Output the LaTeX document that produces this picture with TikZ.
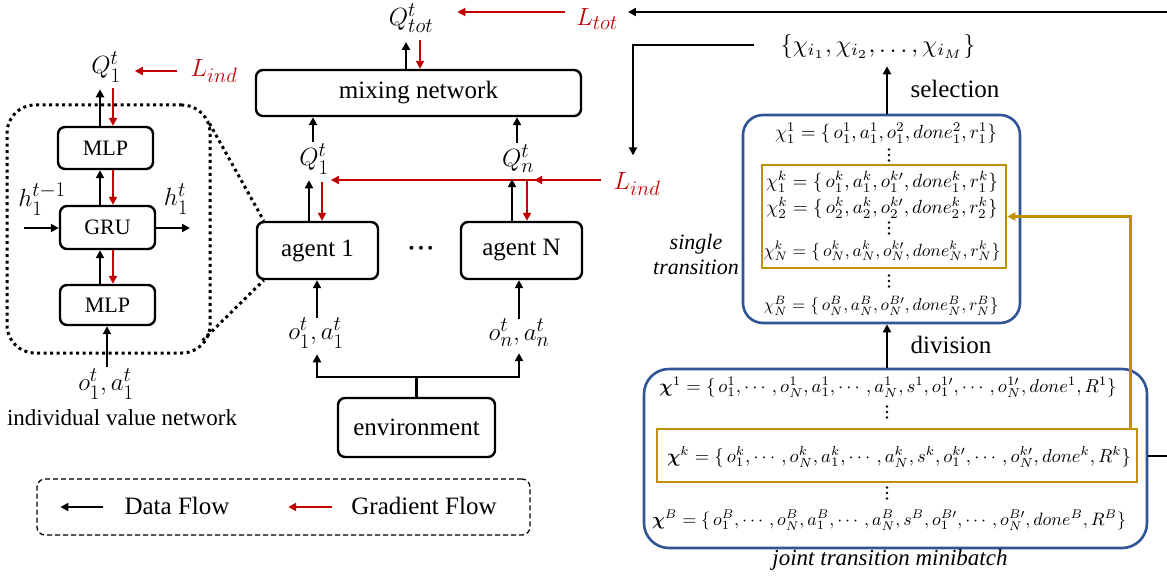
\documentclass[tikz,border=0pt]{standalone}
\usepackage{fontspec}
\setmainfont{Liberation Serif}
\usepackage{amsmath,bm}
\usetikzlibrary{arrows.meta}
\definecolor{gred}{HTML}{C00000}
\definecolor{bblue}{HTML}{2F5597}
\definecolor{gold}{HTML}{BF9000}
\newcommand{\fitw}[2]{\resizebox{#1pt}{!}{$#2$}}
\newcommand{\vdt}[2]{\fill (#1,#2-5.5) circle (1.4pt) (#1,#2) circle (1.4pt) (#1,#2+5.5) circle (1.4pt);}
\begin{document}
\begin{tikzpicture}[x=1pt,y=-1pt,
  blk/.style={draw, line width=2.4pt, rounded corners=7pt, inner sep=0pt, font=\fontsize{25}{30}\selectfont},
  sblk/.style={blk, font=\fontsize{22}{26}\selectfont},
  data/.style={line width=2.2pt, -{Triangle[length=8pt,width=8pt]}},
  plain/.style={line width=2.2pt},
  grad/.style={data, draw=gred},
  lbl/.style={inner sep=0pt, font=\fontsize{29}{34}\selectfont},
  rlbl/.style={lbl, text=gred},
  txt/.style={inner sep=0pt, font=\fontsize{25}{30}\selectfont},
  itxt/.style={inner sep=0pt, font=\fontsize{22}{25}\selectfont\itshape, align=center},
  row/.style={inner sep=0pt},
  bbox/.style={draw=bblue, line width=2.6pt, inner sep=0pt},
  gbox/.style={draw=gold, line width=2.6pt, inner sep=0pt},
  dotl/.style={line width=3pt, dash pattern=on 3pt off 3.5pt},
]
\useasboundingbox (0,0) rectangle (1167,577);

% ---------- individual value network ----------
\node[draw, dotl, rounded corners=28pt,
      minimum width=203pt, minimum height=248pt] (ivn) at (108.5,229) {};
\node[sblk, minimum width=95pt, minimum height=42pt] (mlp1) at (105.5,148) {MLP};
\node[sblk, minimum width=95pt, minimum height=43pt] (gru) at (107.5,227.5) {GRU};
\node[sblk, minimum width=95pt, minimum height=40pt] (mlp2) at (107.5,305) {MLP};
\node[lbl] (q1L) at (106,67) {$Q_1^t$};
\node[rlbl] (lindL) at (214,71) {$L_{ind}$};
\node[lbl] (hin) at (42,199) {$h_1^{t-1}$};
\node[lbl] (hout) at (176,199) {$h_1^t$};
\node[lbl] (oaL) at (106,384) {$o_1^t,a_1^t$};
\node[txt, font=\fontsize{23}{27}\selectfont] (ivnT) at (122,418) {individual value network};
\coordinate (hinS) at (24,228);
\coordinate (houtE) at (190,228);

\draw[grad, shorten <=13pt, shorten >=14pt] (lindL.west) -- (lindL.west -| q1L.east);
\draw[data, shorten >=7pt] (mlp1.north -| 100,0) -- (q1L.south -| 100,0);
\draw[grad, shorten <=6pt] (q1L.south -| 113,0) -- (mlp1.north -| 113,0);
\draw[data] (gru.north -| 100,0) -- (mlp1.south -| 100,0);
\draw[grad] (mlp1.south -| 113,0) -- (gru.north -| 113,0);
\draw[data] (mlp2.north -| 100,0) -- (gru.south -| 100,0);
\draw[grad] (gru.south -| 113,0) -- (mlp2.north -| 113,0);
\draw[data] (hinS) -- (gru.west |- hinS);
\draw[data] (gru.east |- houtE) -- (houtE);
\draw[data, shorten <=2pt] (oaL.north -| 107,0) -- (mlp2.south -| 107,0);

% ---------- QMIX part ----------
\node[blk, minimum width=325pt, minimum height=46pt] (mix) at (418.5,93) {mixing network};
\node[blk, minimum width=121pt, minimum height=57pt] (ag1) at (317.5,250.5) {agent 1};
\node[blk, minimum width=121pt, minimum height=57pt] (agN) at (521.5,250.5) {agent N};
\node[blk, minimum width=157pt, minimum height=59pt] (env) at (416.5,427.5) {environment};
\node[txt] (ell) at (421,249) {$\bm{\cdot\!\cdot\!\cdot}$};
\node[lbl] (qtot) at (411,18) {$Q_{tot}^t$};
\node[rlbl] (ltot) at (597,19) {$L_{tot}$};
\node[lbl] (q1M) at (314,159) {$Q_1^t$};
\node[lbl] (qnM) at (518,159) {$Q_n^t$};
\node[rlbl] (lind2) at (637,184) {$L_{ind}$};
\node[lbl] (oa1) at (316,333) {$o_1^t,a_1^t$};
\node[lbl] (oaN) at (519,333) {$o_n^t,a_n^t$};
\coordinate (br) at (417,377);
\coordinate (re1) at (1167,12);

\draw[data, shorten >=10pt] (re1) -- (re1 -| ltot.east);
\draw[grad, shorten <=11pt, shorten >=24pt] (ltot.west |- 0,12) -- (qtot.east |- 0,12);
\draw[data, shorten >=9pt] (mix.north -| 406,0) -- (qtot.south -| 406,0);
\draw[grad, shorten <=7pt] (qtot.south -| 420,0) -- (mix.north -| 420,0);
\draw[data, shorten <=2pt] (q1M.north -| 313,0) -- (mix.south -| 313,0);
\draw[data, shorten <=2pt] (qnM.north -| 517,0) -- (mix.south -| 517,0);
\draw[grad, shorten <=12pt] (lind2.west |- 0,180) -- (qnM.east |- 0,180);
\draw[grad, shorten <=12pt, shorten >=2pt] (lind2.west |- 0,180) -- (q1M.east |- 0,180);
\draw[data, shorten >=6pt] (ag1.north -| 309,0) -- (q1M.south -| 309,0);
\draw[grad, shorten <=8pt] (q1M.south -| 322,0) -- (ag1.north -| 322,0);
\draw[data, shorten >=6pt] (agN.north -| 512,0) -- (qnM.south -| 512,0);
\draw[grad, shorten <=8pt] (qnM.south -| 527,0) -- (agN.north -| 527,0);
\draw[data] (oa1.north -| 317,0) -- (ag1.south -| 317,0);
\draw[data] (oaN.north -| 519,0) -- (agN.south -| 519,0);
\draw[plain] (env.north) -- (env.north |- br);
\draw[data, shorten >=6pt] (env.north |- br) -| (oa1.south -| 317,0);
\draw[data, shorten >=6pt] (env.north |- br) -| (oaN.south -| 519,0);
\draw[dotl] ([xshift=-2pt,yshift=-20pt]ivn.north east) -- ([xshift=8pt]ag1.north west);
\draw[dotl] ([xshift=-9pt,yshift=14pt]ivn.south east) -- ([xshift=8pt]ag1.south west);

% ---------- legend ----------
\node[draw, line width=1.3pt, dash pattern=on 5pt off 3pt, rounded corners=8pt,
      minimum width=493pt, minimum height=56pt] (leg) at (283.5,507) {};
\node[txt] (dfl) at (177,506) {Data Flow};
\node[txt] (gfl) at (424,506) {Gradient Flow};
\draw[data] ([xshift=-21pt,yshift=-1pt]dfl.west) -- ([xshift=-64pt,yshift=-1pt]dfl.west);
\draw[grad] ([xshift=-19pt,yshift=-1pt]gfl.west) -- ([xshift=-63pt,yshift=-1pt]gfl.west);

% ---------- right part ----------
\node[bbox, rounded corners=20pt, minimum width=277pt, minimum height=208pt] (st) at (881.5,219) {};
\node[gbox, minimum width=244pt, minimum height=103pt] (g1) at (884,216.5) {};
\node[bbox, rounded corners=25pt, minimum width=503pt, minimum height=179pt] (jt) at (895.5,458.5) {};
\node[gbox, minimum width=480pt, minimum height=53pt] (g2) at (897,455.5) {};

\node[row] (setL) at (878,46) {\fitw{195}{\{\chi_{i_1},\chi_{i_2},\dots,\chi_{i_M}\}}};
\node[txt] (selT) at (955,89) {selection};
\node[txt] (divT) at (951,345) {division};
\node[itxt] (stT) at (696,254) {single\\transition};
\node[itxt, font=\fontsize{23}{26}\selectfont\itshape] (jtT) at (890,560) {joint transition minibatch};

\node[row] (r1) at (886,133) {\fitw{222}{\chi_1^1=\{\,o_1^1,a_1^1,o_1^2,done_1^2,r_1^1\}}};
\node[row] (rk1) at (882,182) {\fitw{232}{\chi_1^k=\{\,o_1^k,a_1^k,o_1^{k\prime},done_1^k,r_1^k\}}};
\node[row] (rk2) at (882,208) {\fitw{231}{\chi_2^k=\{\,o_2^k,a_2^k,o_2^{k\prime},done_2^k,r_2^k\}}};
\node[row] (rkN) at (882,251) {\fitw{237}{\chi_N^k=\{\,o_N^k,a_N^k,o_N^{k\prime},done_N^k,r_N^k\}}};
\node[row] (rBN) at (881,306) {\fitw{235}{\chi_N^B=\{\,o_N^B,a_N^B,o_N^{B\prime},done_N^B,r_N^B\}}};
\vdt{889}{155}
\vdt{889}{228}
\vdt{889}{281}

\node[row] (j1) at (888,387) {\fitw{457}{\bm{\chi}^1=\{\,o_1^1,\cdots,o_N^1,a_1^1,\cdots,a_N^1,s^1,o_1^{1\prime},\cdots,o_N^{1\prime},done^1,R^1\}}};
\node[row] (jk) at (899,457) {\fitw{464}{\bm{\chi}^k=\{\,o_1^k,\cdots,o_N^k,a_1^k,\cdots,a_N^k,s^k,o_1^{k\prime},\cdots,o_N^{k\prime},done^k,R^k\}}};
\node[row] (jB) at (889,520) {\fitw{474}{\bm{\chi}^B=\{\,o_1^B,\cdots,o_N^B,a_1^B,\cdots,a_N^B,s^B,o_1^{B\prime},\cdots,o_N^{B\prime},done^B,R^B\}}};
\vdt{887}{412}
\vdt{887}{493}

\coordinate (re2) at (1167,456);
\coordinate (bend) at (633,45);
\draw[data, shorten >=8pt] (st.north -| 887,0) -- (setL.south -| 887,0);
\draw[data] (jt.north -| 887,0) -- (st.south -| 887,0);
\draw[data, shorten >=17pt] ([xshift=-26pt]setL.west |- bend) -- (bend) -- (bend |- lind2.north);
\draw[plain] (jt.east |- re2) -- (re2);
\draw[draw=gold, line width=2.6pt, -{Triangle[length=8pt,width=8pt]}] ([xshift=-8pt]g2.north east) |- (g1.east);
\end{tikzpicture}
\end{document}
